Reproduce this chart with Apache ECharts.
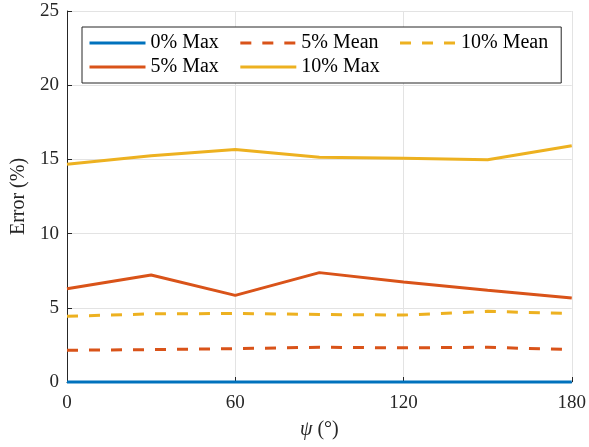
<!DOCTYPE html>
<html>
<head>
<meta charset="utf-8">
<script src="https://cdn.jsdelivr.net/npm/echarts@6/dist/echarts.min.js"></script>
<style>
  html, body {margin: 0; padding: 0; background: #fff;}
  #chart {width: 589px; height: 447px;}
</style>
</head>
<body>
<div id="chart"></div>
<script>
// psi angles (deg)
var psi = [0, 30, 60, 90, 120, 150, 180];

var max0 = [0, 0, 0, 0, 0, 0, 0];
var max5 = [6.29, 7.21, 5.84, 7.37, 6.74, 6.18, 5.66];
var mean5 = [2.14, 2.18, 2.25, 2.34, 2.30, 2.34, 2.18];
var max10 = [14.67, 15.25, 15.67, 15.14, 15.07, 14.98, 15.92];
var mean10 = [4.43, 4.59, 4.62, 4.55, 4.51, 4.76, 4.61];

var row1 = ['0% Max', '5% Mean', '10% Mean'];
var row2 = ['5% Max', '10% Max'];

var blue = '#0072BD', red = '#D95319', yellow = '#EDB120';
var font = 'Liberation Serif';

function pairs(ys) {
  return psi.map(function (x, i) { return [x, ys[i]]; });
}

function mkLine(name, ys, color, dashed) {
  return {
    name: name,
    type: 'line',
    data: pairs(ys),
    symbol: 'none',
    clip: false,
    lineStyle: {color: color, width: 3, type: dashed ? [11, 11] : 'solid'},
    itemStyle: {color: color}
  };
}

function mkLegend(names, top, padding, boxed) {
  return {
    left: 82, top: top,
    data: names,
    itemWidth: 56, itemHeight: 20, itemGap: 20,
    padding: padding,
    backgroundColor: boxed ? '#fff' : 'transparent',
    borderColor: '#262626', borderWidth: boxed ? 1 : 0,
    itemStyle: {opacity: 0},
    lineStyle: {width: 3},
    textStyle: {fontFamily: font, fontSize: 20, color: '#000', lineHeight: 20}
  };
}

var chart = echarts.init(document.getElementById('chart'));
chart.setOption({
  animation: false,
  grid: {left: 67, right: 17, top: 11, bottom: 65},
  legend: [
    mkLegend(row1, 27, [6, 13, 30, 6], true),
    mkLegend(row2, 57, [0, 0, 0, 6], false)
  ],
  xAxis: {
    type: 'value', min: 0, max: 180, interval: 60,
    name: '{i|ψ} (°)', nameLocation: 'middle', nameGap: 38,
    nameTextStyle: {fontFamily: font, fontSize: 20, color: '#262626',
      rich: {i: {fontFamily: font, fontStyle: 'italic', fontSize: 20, color: '#262626'}}},
    axisLine: {lineStyle: {color: '#262626', width: 1}},
    axisTick: {inside: true, length: 5, lineStyle: {color: '#262626'}},
    axisLabel: {fontFamily: font, fontSize: 19, color: '#262626', margin: 12},
    splitLine: {show: true, lineStyle: {color: '#e3e3e3', width: 1}}
  },
  yAxis: {
    type: 'value', min: 0, max: 25, interval: 5,
    name: 'Error (%)', nameLocation: 'middle', nameGap: 33,
    nameTextStyle: {fontFamily: font, fontSize: 20, color: '#262626'},
    axisLine: {show: true, lineStyle: {color: '#262626', width: 1}},
    axisTick: {show: true, inside: true, length: 5, lineStyle: {color: '#262626'}},
    axisLabel: {fontFamily: font, fontSize: 19, color: '#262626', margin: 8},
    splitLine: {show: true, lineStyle: {color: '#e3e3e3', width: 1}}
  },
  series: [
    mkLine('0% Max', max0, blue, false),
    mkLine('5% Max', max5, red, false),
    mkLine('5% Mean', mean5, red, true),
    mkLine('10% Max', max10, yellow, false),
    mkLine('10% Mean', mean10, yellow, true)
  ]
});
</script>
</body>
</html>
